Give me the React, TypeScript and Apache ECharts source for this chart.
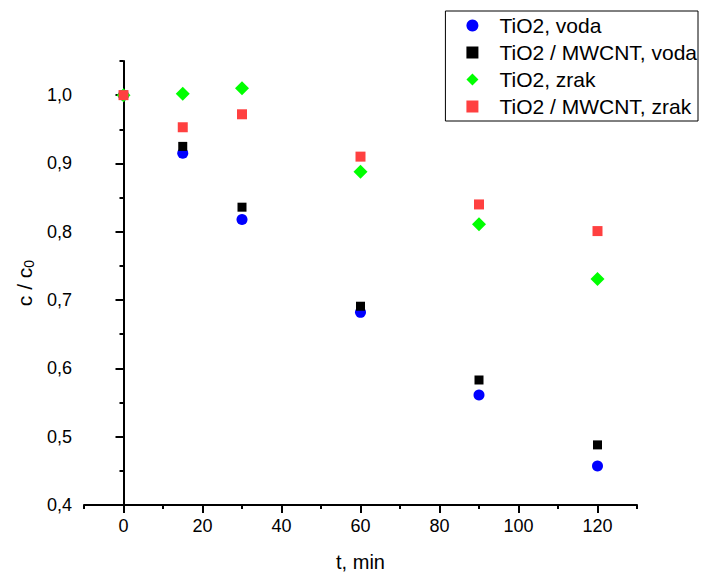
import React, { useEffect, useRef } from "react";
import * as echarts from "echarts";

const times = [0, 15, 30, 60, 90, 120];
const tio2Voda = [1.0, 0.915, 0.818, 0.682, 0.561, 0.457];
const mwcntVoda = [1.0, 0.925, 0.836, 0.691, 0.583, 0.488];
const tio2Zrak = [1.0, 1.002, 1.01, 0.888, 0.811, 0.731];
const mwcntZrak = [1.0, 0.953, 0.972, 0.91, 0.84, 0.801];
const seriesNames = ["TiO2, voda", "TiO2 / MWCNT, voda", "TiO2, zrak", "TiO2 / MWCNT, zrak"];
const seriesValues = [tio2Voda, mwcntVoda, tio2Zrak, mwcntZrak];
const seriesSymbols = ["circle", "rect", "diamond", "rect"];
const seriesColors = ["#0000ff", "#000000", "#00ff00", "#ff4040"];
const seriesSizes = [11, 9, 14, 10];

const FONT = "'Liberation Sans', Arial, sans-serif";

export default function App() {
  const ref = useRef<HTMLDivElement>(null);
  useEffect(() => {
    if (!ref.current) return;
    const chart = echarts.init(ref.current, null, { renderer: "svg" });
    const L = 84, R = 64, T = 61, B = 69;
    const W = 701 - L - R;
    const H = 574 - T - B;
    const xMin = -10, xMax = 130, yMin = 0.4, yMax = 1.05;
    const pxX = W / (xMax - xMin);
    const pxY = H / (yMax - yMin);
    const L2 = L + (0 - xMin) * pxX;
    const R2 = 701 - (L + (120 - xMin) * pxX);
    const T2 = T + (yMax - 1.0) * pxY;
    const axisLine = { show: true, lineStyle: { color: "#000", width: 2 } };
    const option: any = {
      animation: false,
      backgroundColor: "#fff",
      grid: [
        { left: L, right: R, top: T, bottom: B, outerBoundsMode: "none" },
        { left: L2, right: R2, top: T2, bottom: B, outerBoundsMode: "none" },
      ],
      legend: {
        orient: "vertical",
        right: 3,
        top: 11,
        data: seriesNames.map((n, i) => ({ name: n, icon: seriesSymbols[i] })),
        itemWidth: 12,
        itemHeight: 12,
        itemGap: 6,
        symbolKeepAspect: true,
        padding: [4, 1, 4, 21],
        borderColor: "#000",
        borderWidth: 1,
        selectedMode: false,
        textStyle: { fontSize: 21, color: "#000", fontFamily: FONT, padding: [0, 0, 0, 16] },
      },
      xAxis: [
        {
          type: "value",
          gridIndex: 0,
          min: xMin,
          max: xMax,
          interval: 10,
          axisLine,
          axisTick: { show: true, length: 4, lineStyle: { color: "#000", width: 2 } },
          axisLabel: { show: false },
          splitLine: { show: false },
          name: "t, min",
          nameLocation: "middle",
          nameGap: 47,
          nameTextStyle: { fontSize: 20, color: "#000", fontFamily: FONT },
        },
        {
          type: "value",
          gridIndex: 1,
          min: 0,
          max: 120,
          interval: 20,
          axisLine: { show: false },
          axisTick: { show: true, length: 8, lineStyle: { color: "#000", width: 2 } },
          axisLabel: { show: true, margin: 12, fontSize: 18, color: "#000", fontFamily: FONT },
          splitLine: { show: false },
        },
      ],
      yAxis: [
        {
          type: "value",
          gridIndex: 0,
          min: yMin,
          max: yMax,
          interval: 0.05,
          axisLine,
          axisTick: { show: true, length: 4, lineStyle: { color: "#000", width: 2 } },
          axisLabel: { show: false },
          splitLine: { show: false },
          name: "c / c{sub|0}",
          nameLocation: "middle",
          nameGap: 48,
          nameTextStyle: {
            fontSize: 21,
            color: "#000",
            fontFamily: FONT,
            rich: {
              sub: { fontSize: 14, color: "#000", fontFamily: FONT, padding: [9, 0, 0, 0] },
            },
          },
        },
        {
          type: "value",
          gridIndex: 1,
          min: 0.4,
          max: 1.0,
          interval: 0.1,
          offset: L2 - L,
          axisLine: { show: false },
          axisTick: { show: true, length: 8, lineStyle: { color: "#000", width: 2 } },
          axisLabel: {
            show: true,
            margin: 12,
            fontSize: 18,
            color: "#000",
            fontFamily: FONT,
            formatter: (v: number) => v.toFixed(1).replace(".", ","),
          },
          splitLine: { show: false },
        },
      ],
      series: seriesNames.map((name, i) => ({
        name,
        type: "scatter",
        xAxisIndex: 0,
        yAxisIndex: 0,
        symbol: seriesSymbols[i],
        symbolSize: seriesSizes[i],
        itemStyle: { color: seriesColors[i], opacity: 1 },
        z: 2 + i,
        data: times.map((t, j) => [t, seriesValues[i][j]]),
      })),
    };
    chart.setOption(option);
    return () => chart.dispose();
  }, []);
  return (
    <div
      ref={ref}
      style={{ position: "fixed", left: 0, top: 0, width: 701, height: 574, background: "#fff" }}
    />
  );
}
